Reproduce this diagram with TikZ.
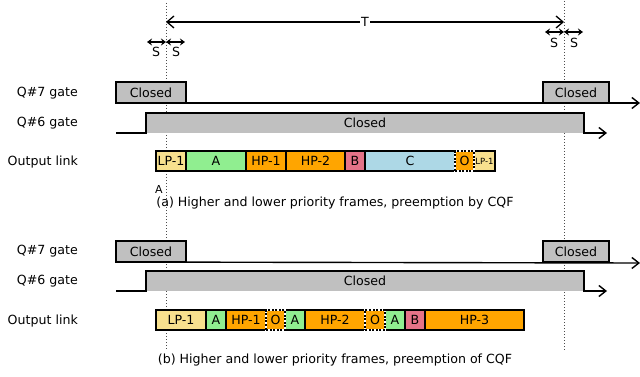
\documentclass[tikz,border=0pt]{standalone}
\usepackage{fontspec}
\setmainfont{DejaVu Sans}
\usetikzlibrary{arrows.meta}
\definecolor{gatec}{RGB}{192,192,192}
\definecolor{lpc}{RGB}{247,224,142}
\definecolor{grc}{RGB}{144,238,144}
\definecolor{orc}{RGB}{255,165,0}
\definecolor{pkc}{RGB}{228,115,136}
\definecolor{blc}{RGB}{173,216,230}
\begin{document}
\begin{tikzpicture}[x=1pt,y=-1pt,
  font=\fontsize{12.6}{14}\selectfont,
  fbox/.style={draw, line width=1.4pt, inner sep=0pt, outer sep=0pt, anchor=north west, minimum height=20pt},
  obox/.style={fbox, fill=orc, draw=white, postaction={draw=black, dash pattern=on 2pt off 1.6pt}},
  gbox/.style={fbox, fill=gatec, minimum height=21pt},
  gline/.style={line width=1.4pt, -{Straight Barb[length=7pt,width=11pt]}},
  sarr/.style={line width=1.3pt, {Stealth[length=5pt,width=7pt]}-{Stealth[length=5pt,width=7pt]}},
  rowlab/.style={anchor=east, inner sep=0pt},
  vdot/.style={dotted, line width=1pt, black!70}
]
\useasboundingbox (0,0) rectangle (640,377);

% dotted vertical lines
\coordinate (d1t) at (166,3);
\coordinate (d1b) at (166,350);
\coordinate (d2t) at (564,1);
\coordinate (d2b) at (564,350);
\draw[vdot] (d1t) -- (d1b);
\draw[vdot] (d2t) -- (d2b);

% T arrow
\coordinate (tl) at (166,22);
\coordinate (tr) at (564,22);
\draw[line width=1.3pt, {Straight Barb[length=7pt,width=12pt]}-{Straight Barb[length=7pt,width=12pt]}] (tl) -- (tr);
\node[fill=white, inner sep=1pt] (tlab) at (365,22) {T};

% S arrows
\coordinate (s1a) at (147,42); \coordinate (s1b) at (166,42); \coordinate (s1c) at (185,42);
\draw[sarr] (s1a) -- (s1b);
\draw[sarr] (s1b) -- (s1c);
\node (sl1) at (156,52) {S};
\node (sl2) at (176,52) {S};
\coordinate (s2a) at (545,32); \coordinate (s2b) at (564,32); \coordinate (s2c) at (583,32);
\draw[sarr] (s2a) -- (s2b);
\draw[sarr] (s2b) -- (s2c);
\node (sr1) at (554,43) {S};
\node (sr2) at (574,43) {S};

% ---------- (a) ----------
\node[rowlab] (la7) at (78,93) {Q\#7 gate};
\node[rowlab] (la6) at (78,123) {Q\#6 gate};
\node[rowlab] (lao) at (78,162) {Output link};

\node[gbox, minimum width=70pt] (q7a1) at (116,82) {Closed};
\node[gbox, minimum width=66pt] (q7a2) at (543,82) {Closed};
\coordinate (q7aend) at (640,103);
\draw[gline] (q7a1.south west) -- (q7aend);

\node[fbox, draw=none, fill=gatec, minimum width=438pt] (q6a) at (146,113) {Closed};
\coordinate (q6as) at (116,133);
\coordinate (q6ae) at (607,133);
\draw[gline] (q6as) -- (q6a.south west) -- (q6a.north west) -- (q6a.north east) -- (q6a.south east) -- (q6ae);

\node[fbox, fill=lpc, minimum width=30pt] (a1) at (156,151) {LP-1};
\node[fbox, fill=grc, minimum width=60pt] (a2) at (186,151) {A};
\node[fbox, fill=orc, minimum width=40pt] (a3) at (246,151) {HP-1};
\node[fbox, fill=orc, minimum width=59pt] (a4) at (286,151) {HP-2};
\node[fbox, fill=pkc, minimum width=20pt] (a5) at (345,151) {B};
\node[fbox, fill=blc, minimum width=90pt] (a6) at (365,151) {C};
\node[fbox, fill=lpc, minimum width=21pt, font=\fontsize{8.5}{10}\selectfont] (a8) at (474,151) {LP-1};
\node[obox, minimum width=19pt] (a7) at (455,151) {O};

\node[font=\fontsize{11}{12}\selectfont, inner sep=0pt] (alab) at (159,189) {A};
\node (capa) at (335,203) {(a) Higher and lower priority frames, preemption by CQF};

% ---------- (b) ----------
\node[rowlab] (lb7) at (78,251) {Q\#7 gate};
\node[rowlab] (lb6) at (78,281) {Q\#6 gate};
\node[rowlab] (lbo) at (78,321) {Output link};

\node[gbox, minimum width=70pt] (q7b1) at (116,241) {Closed};
\node[gbox, minimum width=66pt] (q7b2) at (543,241) {Closed};
\coordinate (q7bend) at (640,263);
\draw[gline] (q7b1.south west) -- (q7bend);

\node[fbox, draw=none, fill=gatec, minimum width=438pt] (q6b) at (146,271) {Closed};
\coordinate (q6bs) at (116,291);
\coordinate (q6be) at (607,291);
\draw[gline] (q6bs) -- (q6b.south west) -- (q6b.north west) -- (q6b.north east) -- (q6b.south east) -- (q6be);

\node[fbox, fill=lpc, minimum width=50pt] (b1) at (156,310) {LP-1};
\node[fbox, fill=grc, minimum width=20pt] (b2) at (206,310) {A};
\node[fbox, fill=orc, minimum width=40pt] (b3) at (226,310) {HP-1};
\node[fbox, fill=grc, minimum width=20pt] (b5) at (285,310) {A};
\node[fbox, fill=orc, minimum width=60pt] (b6) at (305,310) {HP-2};
\node[fbox, fill=grc, minimum width=20pt] (b8) at (385,310) {A};
\node[fbox, fill=pkc, minimum width=20pt] (b9) at (405,310) {B};
\node[fbox, fill=orc, minimum width=99pt] (b10) at (425,310) {HP-3};
\node[obox, minimum width=19pt] (b4) at (266,310) {O};
\node[obox, minimum width=20pt] (b7) at (365,310) {O};

\node (capb) at (335,360) {(b) Higher and lower priority frames, preemption of CQF};
\end{tikzpicture}
\end{document}
